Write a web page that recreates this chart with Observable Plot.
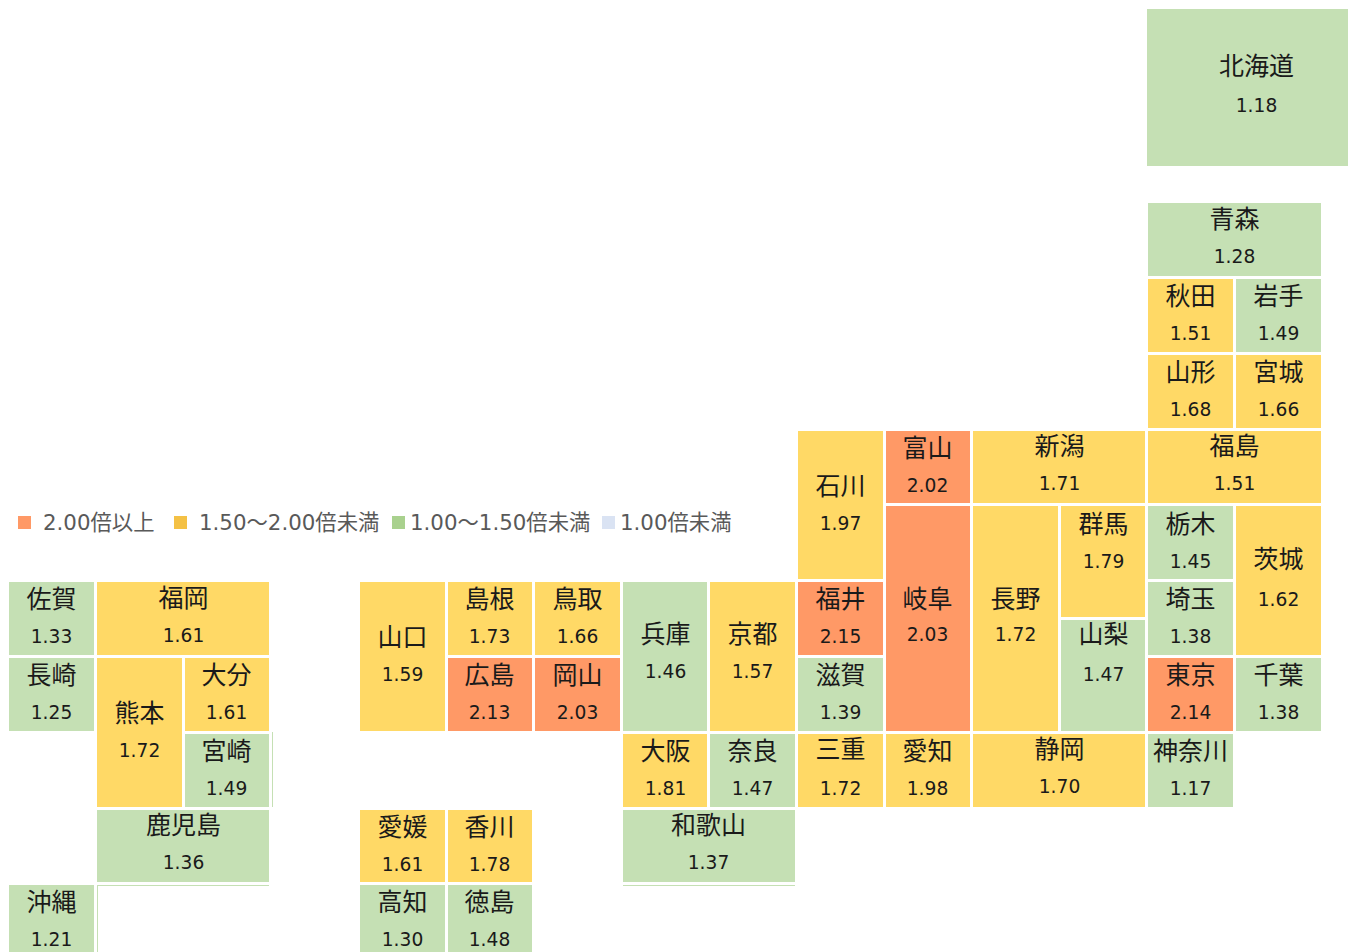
<!DOCTYPE html>
<html lang="ja">
<head>
<meta charset="utf-8">
<script src="https://cdn.jsdelivr.net/npm/d3@7"></script>
<script src="https://cdn.jsdelivr.net/npm/@observablehq/plot@0.6"></script>
<style>
html,body{margin:0;padding:0;background:#fff;overflow:hidden}
#chart{position:relative;width:1348px;height:952px;font-family:"DejaVu Sans","Noto Sans CJK JP",sans-serif}
#chart svg{display:block}
.lg{position:absolute;top:0;left:0;font-size:21.33px;color:#595959;white-space:nowrap}
.sw,.tx{position:absolute}
.sw{width:13px;height:13px;top:516px}
.tx{top:523px;transform:translateY(-50%);line-height:1}
.e0 .sw{left:18px}.e0 .tx{left:43px}
.e1 .sw{left:174px}.e1 .tx{left:199px}
.e2 .sw{left:392px}.e2 .tx{left:410px}
.e3 .sw{left:602px}.e3 .tx{left:620px}
</style>
</head>
<body>
<div id="chart"></div>
<script>
const prefs = ["北海道","青森","秋田","岩手","山形","宮城","福島","新潟","富山","石川","岐阜","長野","群馬","山梨","栃木","茨城","埼玉","東京","千葉","神奈川","静岡","愛知","三重","福井","滋賀","京都","兵庫","大阪","奈良","和歌山","鳥取","島根","山口","広島","岡山","愛媛","香川","高知","徳島","佐賀","福岡","長崎","熊本","大分","宮崎","鹿児島","沖縄"];
const ratios = [1.18,1.28,1.51,1.49,1.68,1.66,1.51,1.71,2.02,1.97,2.03,1.72,1.79,1.47,1.45,1.62,1.38,2.14,1.38,1.17,1.70,1.98,1.72,2.15,1.39,1.57,1.46,1.81,1.47,1.37,1.66,1.73,1.59,2.13,2.03,1.61,1.78,1.30,1.48,1.33,1.61,1.25,1.72,1.61,1.49,1.36,1.21];

// Tile-grid placement of each prefecture (grid units)
const tileCol = [12.983,13,13,14,13,14,13,11,10,9,10,11,12,12,13,14,13,13,14,13,11,10,9,9,9,8,7,7,8,7,6,5,4,5,6,4,5,4,5,0,1,0,1,2,2,1,0];
const tileRow = [-2.562,0,1,1,2,2,3,3,3,3,4,4,4,5.5,4,4,5,6,6,7,7,7,7,5,6,5,5,7,7,8,5,5,5,6,6,8,8,9,9,5,5,6,6,6,7,8,9];
const colSpan = [2.328,2,1,1,1,1,2,2,1,1,1,1,1,1,1,1,1,1,1,1,2,1,1,1,1,1,1,1,1,2,1,1,1,1,1,1,1,1,1,1,2,1,1,1,1,2,1];
const rowSpan = [2.11,1,1,1,1,1,1,1,1,2,3,3,1.5,1.5,1,2,1,1,1,1,1,1,1,1,1,2,2,1,1,1,1,1,2,1,1,1,1,1,1,1,1,1,2,1,1,1,1];
// Label line rows
const nameLine = [66,219,296,296,372,372,446,446,448,486,599,599,524,634,524,559,599,675,675,751,749,751,749,599,675,634,634,751,751,825,599,599,637,675,675,827,827,902,902,599,598,675,713,675,751,825,902];
const valueLine = [106,257,334,334,410,410,484,484,486,524,635,635,562,675,562,600,637,713,713,789,787,789,789,637,713,672,672,789,789,863,637,637,675,713,713,865,865,940,940,637,636,713,751,713,789,863,940];

const thresholds = [1.0,1.5,2.0];
const cellColors = ["#DAE3F3","#C5E0B4","#FFD966","#FF9966"];
const legendLabels = ["2.00倍以上","1.50～2.00倍未満","1.00～1.50倍未満","1.00倍未満"];
const legendColors = ["#FF9966","#F4C145","#A9D18E","#DAE3F3"];

const colPitch = 87.62, rowPitch = 75.8, originX = 9.41, originY = 203.2;
const toRow = v => (v - originY) / rowPitch;
const toCol = v => v / colPitch;

const table = prefs.map((name,i)=>({
  name, ratio: ratios[i],
  x1: tileCol[i], x2: tileCol[i]+colSpan[i],
  y1: tileRow[i], y2: tileRow[i]+rowSpan[i],
  vx: (i===0 ? 14.238 : tileCol[i]+colSpan[i]/2-0.012) - toCol(1),
  ny: toRow(nameLine[i]), vy: toRow(valueLine[i])
}));

// Blank-cell border remnants in the reference
const hLines = [{x1:1,x2:2.965,y:9},{x1:7,x2:8.965,y:9}];
const vLines = [{x:1,y1:9,y2:10},{x:3,y1:6.97,y2:7.96}];

const plot = Plot.plot({
  width:1348, height:952,
  marginTop:0, marginRight:0, marginBottom:0, marginLeft:0,
  x:{domain:[-originX/colPitch,(1348-originX)/colPitch],range:[0,1348],axis:null,round:true},
  y:{domain:[-originY/rowPitch,(952-originY)/rowPitch],range:[0,952],axis:null,round:true},
  color:{type:"threshold",domain:thresholds,range:cellColors},
  style:{background:"transparent",fontFamily:'"DejaVu Sans","Noto Sans CJK JP",sans-serif'},
  marks:[
    Plot.rect(table,{x1:"x1",x2:"x2",y1:"y1",y2:"y2",fill:"ratio",insetRight:3,insetBottom:3}),
    Plot.ruleY(hLines,{x1:"x1",x2:"x2",y:"y",stroke:cellColors[1],strokeWidth:1}),
    Plot.ruleX(vLines,{x:"x",y1:"y1",y2:"y2",stroke:cellColors[1],strokeWidth:1}),
    Plot.text(table,{x:"vx",y:"ny",text:"name",fontSize:25,fill:"#1a1a1a",lineAnchor:"middle"}),
    Plot.text(table,{x:"vx",y:"vy",text:d=>d.ratio.toFixed(2),fontSize:18.67,fill:"#1a1a1a",lineAnchor:"middle"})
  ]
});
const root = document.getElementById("chart");
root.appendChild(plot);
const lg = document.createElement("div");
lg.className="lg";
legendLabels.forEach((t,i)=>{
  const e=document.createElement("div");
  e.className="e"+i;
  const s=document.createElement("span"); s.className="sw"; s.style.background=legendColors[i];
  const x=document.createElement("span"); x.className="tx"; x.textContent=t;
  e.append(s,x); lg.appendChild(e);
});
root.appendChild(lg);
</script>
</body>
</html>
